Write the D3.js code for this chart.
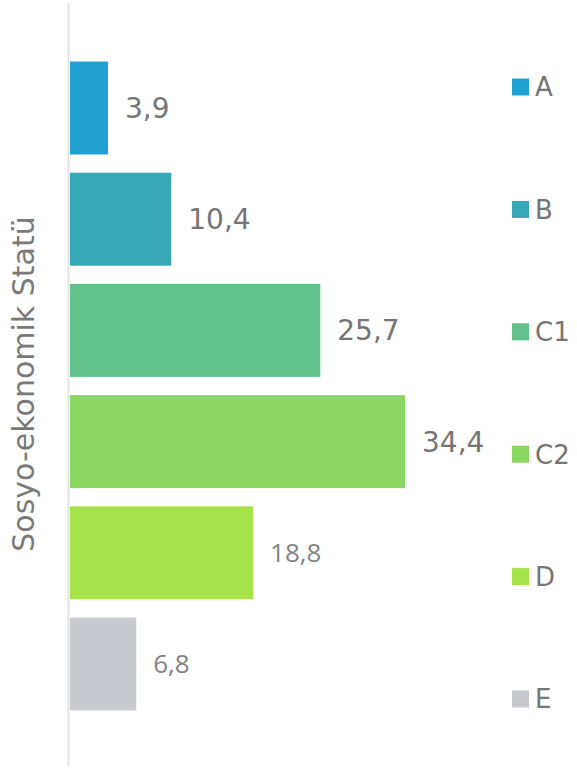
<!DOCTYPE html>
<html>
<head>
<meta charset="utf-8">
<script src="https://cdn.jsdelivr.net/npm/d3@7"></script>
<style>
  html, body { margin: 0; padding: 0; background: #fff; }
</style>
</head>
<body>
<div id="chart"></div>
<script>
const categories = ["A", "B", "C1", "C2", "D", "E"];
const values = [3.9, 10.4, 25.7, 34.4, 18.8, 6.8];
const colors = ["#21a0d2", "#37a7b3", "#63c18b", "#8cd762", "#a6e34a", "#c9c9d0"];
const axisTitle = "Sosyo-ekonomik Statü";

function renderChart() {
    const width = 577;
    const height = 768;
    const x0 = 70;

    const svg = d3.select("#chart").append("svg")
        .attr("width", width)
        .attr("height", height);

    const x = d3.scaleLinear().domain([0, 34.4]).range([x0, 405]);
    const y = d3.scaleBand().domain(categories).range([52.4, 719.6])
        .paddingInner(0.164).paddingOuter(0.082);
    const legendY = d3.scalePoint().domain(categories).range([87, 699]);

    svg.append("line")
        .attr("x1", 68.5).attr("x2", 68.5)
        .attr("y1", 3).attr("y2", 766)
        .attr("stroke", "#e3e3e3")
        .attr("stroke-width", 2);

    svg.append("g")
        .selectAll("rect")
        .data(categories)
        .join("rect")
        .attr("x", x0)
        .attr("y", d => y(d))
        .attr("width", (d, i) => x(values[i]) - x0)
        .attr("height", y.bandwidth())
        .attr("fill", (d, i) => colors[i]);

    svg.append("g")
        .selectAll("text")
        .data(categories)
        .join("text")
        .attr("x", (d, i) => x(values[i]) + 17)
        .attr("y", d => y(d) + y.bandwidth() / 2)
        .attr("dy", "0.36em")
        .attr("font-family", (d, i) => i >= 4 ? "'Open Sans', sans-serif" : "'DejaVu Sans', Verdana, sans-serif")
        .attr("font-size", (d, i) => i >= 4 ? 26 : 28)
        .attr("fill", (d, i) => i >= 4 ? "#838383" : "#757575")
        .text((d, i) => d3.format(".1f")(values[i]).replace(".", ","));

    svg.append("text")
        .attr("transform", `translate(34,384) rotate(-90)`)
        .attr("text-anchor", "middle")
        .attr("font-family", "'DejaVu Sans', Verdana, sans-serif")
        .attr("font-size", 30)
        .attr("fill", "#7a7a7a")
        .text(axisTitle);

    const legend = svg.append("g")
        .selectAll("g")
        .data(categories)
        .join("g")
        .attr("transform", d => `translate(512,${legendY(d)})`);

    legend.append("rect")
        .attr("x", 0).attr("y", -8.5)
        .attr("width", 17).attr("height", 17)
        .attr("fill", (d, i) => colors[i]);

    legend.append("text")
        .attr("x", 23)
        .attr("y", 0)
        .attr("dy", "0.36em")
        .attr("font-family", "'DejaVu Sans', Verdana, sans-serif")
        .attr("font-size", 26)
        .attr("fill", "#757575")
        .text(d => d);
}

renderChart();
</script>
</body>
</html>
